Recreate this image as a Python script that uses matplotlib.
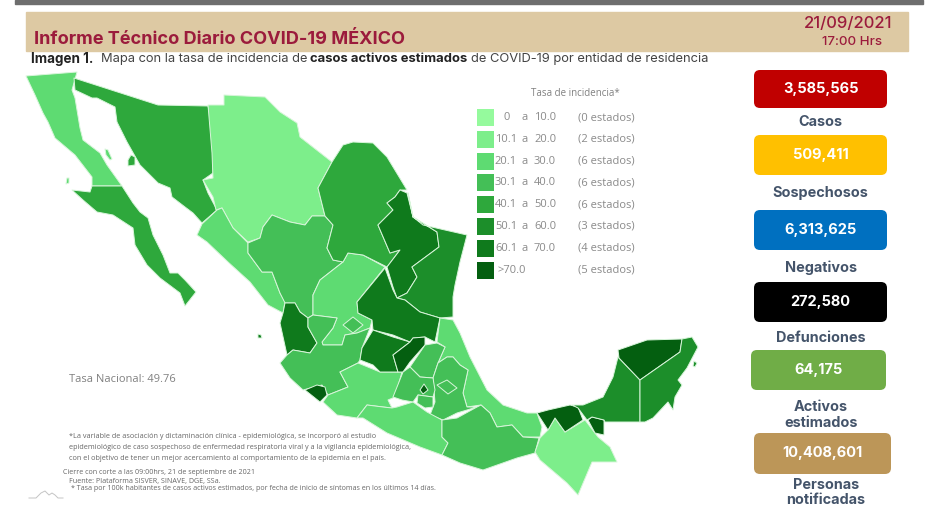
# Informe tecnico diario COVID-19: mapa de incidencia por estado + indicadores
import matplotlib
matplotlib.use('Agg')
import matplotlib.pyplot as plt
from matplotlib.patches import FancyBboxPatch, Polygon, Rectangle

# --------------------------- datos ---------------------------
rango_desde = ['0', '10.1', '20.1', '30.1', '40.1', '50.1', '60.1', '>70.0']
rango_hasta = ['10.0', '20.0', '30.0', '40.0', '50.0', '60.0', '70.0', '']
conteos = ['(0 estados)', '(2 estados)', '(6 estados)', '(6 estados)',
           '(6 estados)', '(3 estados)', '(4 estados)', '(5 estados)']
colores = ['#95FA9D', '#7DEE8B', '#5EDB72', '#44BF57', '#2EA83C', '#1C8E2A', '#0F7A1C', '#045F10']

kpi_valores = ['3,585,565', '509,411', '6,313,625', '272,580', '64,175', '10,408,601']
kpi_nombres = ['Casos', 'Sospechosos', 'Negativos', 'Defunciones', 'Activos\nestimados', 'Personas\nnotificadas']
kpi_colores = ['#C00000', '#FFC000', '#0070C0', '#000000', '#70AD47', '#BC9658']

# clase de incidencia por estado (indice en colores)
clase = {
    'BC': 2, 'Guarda': 2, 'Cedros': 2, 'Son': 4, 'Tiburon': 4, 'BCS': 4, 'Chih': 1, 'Sin': 2, 'Dgo': 3,
    'Coah': 4, 'Zac': 2, 'Tamps': 5, 'NL': 6, 'SLP': 6, 'Nay': 6, 'Marias': 6, 'Jal': 3, 'Ags': 3, 'Col': 7,
    'Mich': 2, 'Gto': 6, 'Qro': 7, 'Ver': 2, 'Hgo': 3, 'Pue': 3, 'Mex': 3, 'CDMX': 7,
    'Mor': 3, 'Tlax': 3, 'Gro': 2, 'Oax': 3, 'Chis': 1, 'Tab': 7, 'TabE': 7, 'Camp': 5,
    'Yuc': 7, 'QRoo': 5, 'Cozumel': 5,
}

# contornos de los estados (pixeles)
contornos = {
    'BC': [(26,76),(77,72),(72,90),(75,98),(80,128),(83,140),(100,153),(107,165),(122,186),(92,186),(92,177),
           (75,155),(55,138),(48,122),(43,113),(35,95)],
    'Guarda': [(105,149),(108,150),(112,159),(110,160),(106,155)],
    'Cedros': [(67,178),(69,178),(69,183),(66,184)],
    'Son': [(74,78),(158,105),(208,106),(213,128),(213,173),(203,180),(208,193),(217,210),(202,223),(193,213),
            (185,207),(172,197),(170,188),(158,183),(140,165),(127,142),(117,122),(115,107),(97,98),(92,98),(75,90)],
    'Tiburon': [(131,155),(135,157),(135,165),(128,166),(128,160)],
    'BCS': [(72,190),(90,192),(92,186),(122,186),(133,203),(140,212),(148,218),(153,235),(163,255),(170,273),
            (178,273),(185,280),(196,292),(185,306),(180,293),(160,278),(147,265),(135,245),(133,228),(113,215),
            (97,212),(83,200)],
    'Chih': [(208,105),(224,105),(224,95),(265,97),(280,112),(297,123),(300,137),(332,162),(318,188),(325,216),
             (312,216),(305,225),(290,222),(272,215),(263,227),(260,238),(248,242),(233,228),(222,208),(216,210),
             (213,197),(203,180),(213,178),(212,153)],
    'Sin': [(202,224),(217,210),(222,208),(233,228),(248,243),(248,253),(262,272),(272,272),(280,293),(285,302),
            (283,313),(268,305),(250,282),(228,262),(207,242),(197,235)],
    'Dgo': [(248,243),(260,238),(263,227),(272,215),(290,222),(305,225),(312,216),(325,216),(333,225),(327,248),
            (333,260),(343,262),(320,280),(313,295),(313,315),(308,318),(300,312),(295,303),(285,303),(280,293),
            (272,272),(262,272),(248,253)],
    'Zac': [(343,262),(348,253),(363,255),(385,267),(357,302),(358,313),(372,320),(370,328),(357,333),(345,335),
            (342,345),(323,345),(322,342),(333,328),(337,318),(313,315),(313,295),(320,280)],
    'Coah': [(332,162),(343,145),(353,142),(373,143),(387,157),(407,190),(400,190),(395,197),(387,203),(393,210),
             (378,225),(390,253),(400,250),(387,267),(363,255),(348,253),(343,262),(333,260),(327,248),(333,225),
             (325,216),(318,188)],
    'NL': [(400,190),(407,193),(413,217),(437,232),(439,247),(412,267),(417,277),(407,293),(397,298),(393,287),
           (387,267),(400,250),(390,253),(378,225),(393,210),(387,203),(395,197)],
    'Tamps': [(408,193),(413,217),(423,225),(467,235),(460,262),(455,285),(453,297),(453,317),(440,318),(420,312),
              (405,300),(397,298),(407,293),(417,277),(412,267),(439,247),(437,232),(413,217)],
    'SLP': [(385,268),(393,290),(397,298),(405,300),(420,312),(440,318),(435,342),(425,337),(413,338),(410,342),
            (393,335),(373,330),(372,320),(358,313),(357,302)],
    'Nay': [(285,303),(295,303),(300,312),(308,318),(308,327),(317,343),(310,353),(293,350),(287,355),(280,323),
            (283,313)],
    'Marias': [(258,334),(261,335),(262,338),(258,338)],
    'Jal': [(308,318),(313,315),(337,318),(333,328),(322,342),(323,345),(342,345),(345,335),(357,333),(370,328),
            (362,348),(360,360),(358,363),(340,372),(348,387),(328,395),(322,385),(303,390),(290,378),(280,363),
            (287,355),(293,350),(310,353),(317,343),(308,327)],
    'Ags': [(343,325),(353,317),(363,325),(353,333)],
    'Col': [(305,390),(317,385),(325,387),(327,395),(320,402)],
    'Mich': [(323,402),(328,395),(348,387),(340,372),(358,363),(380,372),(402,372),(395,397),(388,400),(392,408),
             (383,407),(367,405),(357,418),(337,415)],
    'Gto': [(373,330),(393,337),(410,342),(393,355),(398,372),(380,372),(373,365),(360,360),(362,348)],
    'Qro': [(410,342),(413,338),(425,337),(425,345),(410,362),(403,372),(398,372),(393,355)],
    'Ver': [(440,318),(453,320),(460,333),(470,357),(487,390),(503,405),(527,413),(537,413),(542,427),(540,437),
            (523,437),(512,425),(497,427),(490,413),(481,405),(467,407),(463,393),(468,370),(460,365),(453,357),
            (447,357),(438,363),(445,347),(437,342)],
    'Hgo': [(410,367),(425,345),(437,343),(445,347),(438,363),(433,378),(420,377)],
    'Pue': [(447,357),(453,357),(460,365),(468,370),(463,393),(467,407),(477,407),(457,413),(443,420),(430,415),
            (435,402),(433,378),(438,363)],
    'Mex': [(403,372),(410,367),(420,377),(433,378),(435,390),(433,397),(418,395),(413,402),(402,400),(393,397)],
    'CDMX': [(420,390),(424,384),(428,390),(423,394)],
    'Mor': [(418,395),(433,397),(433,407),(425,408),(417,403)],
    'Tlax': [(437,385),(447,380),(457,388),(448,394)],
    'Gro': [(357,418),(367,405),(383,407),(392,408),(397,407),(413,402),(427,412),(442,420),(442,437),(448,443),
            (442,455),(420,447),(387,433),(363,418)],
    'Oax': [(442,420),(457,418),(477,407),(481,405),(490,413),(497,427),(512,425),(523,437),(539,438),(535,453),
            (517,458),(483,470),(460,463),(442,455),(448,443),(442,437)],
    'Chis': [(540,438),(548,430),(555,418),(565,432),(585,420),(598,437),(610,447),(617,462),(592,462),(578,495),
             (567,483),(540,460),(535,452)],
    'Tab': [(537,413),(548,410),(570,405),(578,407),(583,420),(565,432),(555,418),(548,430)],
    'TabE': [(588,420),(592,417),(604,420),(604,435),(595,433)],
    'Camp': [(618,357),(640,380),(640,422),(605,422),(604,420),(592,417),(587,420),(578,408),(572,405),(583,405),
             (603,397),(613,377)],
    'Yuc': [(618,350),(647,340),(682,339),(680,352),(640,380),(619,358)],
    'QRoo': [(682,339),(692,337),(698,347),(687,368),(678,380),(682,385),(675,397),(673,410),(668,402),(653,418),
             (645,422),(640,422),(640,380),(680,352)],
    'Cozumel': [(694,361),(697,363),(695,367),(693,366)],
}

plt.rcParams['font.family'] = ['Open Sans', 'DejaVu Sans']

fig = plt.figure(figsize=(9.4, 5.18), dpi=100)
ax = fig.add_axes([0, 0, 1, 1])
ax.set_xlim(0, 940)
ax.set_ylim(518, 0)
ax.axis('off')

# --------------------------- encabezado ---------------------------
ax.add_patch(Rectangle((15, 0), 908, 4, color='#6E6E6E'))
ax.add_patch(Rectangle((26, 12), 882, 39, color='#DDC9A3'))
ax.text(34, 40, 'Informe Técnico Diario COVID-19 MÉXICO', family='Inter', fontsize=13.05,
        fontweight='bold', color='#9B1B3C', va='center')
ax.text(848, 23, '21/09/2021', family='Inter', fontsize=12, fontweight='medium', color='#9B1B3C',
        ha='center', va='center')
ax.text(852, 42, '17:00 Hrs', family='Inter', fontsize=9.6, color='#9B1B3C', fontweight='medium',
        ha='center', va='center')

ax.text(31, 59, 'Imagen 1.', family='Inter', fontsize=9.7, fontweight='bold', color='#222222', va='center')
ax.text(101, 59, 'Mapa con la tasa de incidencia de', family='Inter', fontsize=9.25, color='#444444', va='center')
ax.text(310, 59, 'casos activos estimados', family='Inter', fontsize=9.4, fontweight='bold', color='#222222', va='center')
ax.text(471, 59, 'de COVID-19 por entidad de residencia', family='Inter', fontsize=9.3, color='#444444', va='center')

# --------------------------- mapa ---------------------------
for estado, puntos in contornos.items():
    ax.add_patch(Polygon(puntos, closed=True, facecolor=colores[clase[estado]],
                         edgecolor='#D8F5DA', linewidth=0.7, joinstyle='round'))

# --------------------------- leyenda ---------------------------
ax.text(575, 94, 'Tasa de incidencia*', fontsize=7, color='#808080', ha='center', va='center')
y0 = 117.5
paso = 21.8
for i in range(len(rango_desde)):
    y = y0 + i * paso
    ax.add_patch(Rectangle((477, y - 8.5), 17, 17, facecolor=colores[i], edgecolor='none'))
    if rango_hasta[i]:
        x_desde = 510 if rango_desde[i] == '0' else 517
        ax.text(x_desde, y, rango_desde[i], fontsize=8, color='#8A8A8A', ha='right', va='center')
        ax.text(521, y, 'a', fontsize=8, color='#8A8A8A', va='center')
        ax.text(534, y, rango_hasta[i], fontsize=8, color='#8A8A8A', va='center')
    else:
        ax.text(498, y, rango_desde[i], fontsize=8, color='#8A8A8A', va='center')
    ax.text(578, y, conteos[i], fontsize=8, color='#8A8A8A', va='center')

# --------------------------- indicadores ---------------------------
cajas = [(754, 70, 133, 38), (754, 135, 133, 40), (754, 210, 133, 40),
         (754, 282, 133, 40), (751, 350, 135, 40), (754, 433, 137, 41)]
etiquetas_y = [121.5, 192.5, 267.5, 338.5, 415, 492.5]
etiquetas_x = [820, 820, 821, 821, 821, 826]
for i in range(len(kpi_valores)):
    x, y, w, h = cajas[i]
    ax.add_patch(FancyBboxPatch((x + 5, y + 5), w - 10, h - 10, boxstyle='round,pad=5,rounding_size=6',
                                facecolor=kpi_colores[i], edgecolor='none'))
    ax.text(x + w / 2, y + h / 2, kpi_valores[i], family='Inter', fontsize=10.5, fontweight='bold',
            color='white', ha='center', va='center')
    ax.text(etiquetas_x[i], etiquetas_y[i], kpi_nombres[i], family='Inter', fontsize=10.4, fontweight='bold',
            color='#44546A', ha='center', va='center', linespacing=1.1)

# --------------------------- notas ---------------------------
ax.text(69, 379, 'Tasa Nacional: 49.76', fontsize=8, color='#808080', va='center')
notas = ['*La variable de asociación y dictaminación clínica - epidemiológica, se incorporó al estudio',
         'epidemiológico de caso sospechoso de enfermedad respiratoria viral y a la vigilancia epidemiológica,',
         'con el objetivo de tener un mejor acercamiento al comportamiento de la epidemia en el país.']
for i, linea in enumerate(notas):
    ax.text(69, 437 + i * 10.7, linea, fontsize=5.2, color='#666666', va='center')
ax.text(63, 472, 'Cierre con corte a las 09:00hrs, 21 de septiembre de 2021', fontsize=5.1, color='#666666', va='center')
ax.text(69, 481, 'Fuente: Plataforma SISVER, SINAVE, DGE, SSa.', fontsize=5.1, color='#666666', va='center')
ax.text(71, 489, '* Tasa por 100k habitantes de casos activos estimados, por fecha de inicio de síntomas en los últimos 14 días.',
        fontsize=5.1, color='#666666', va='center')

# logo tenue abajo a la izquierda
ax.plot([29, 36, 41, 45, 49, 52, 55, 58, 63], [498, 498, 493, 491, 495, 493, 495, 498, 498], color='#C4C4C4', linewidth=0.7)

fig.savefig('out.png', dpi=100)
